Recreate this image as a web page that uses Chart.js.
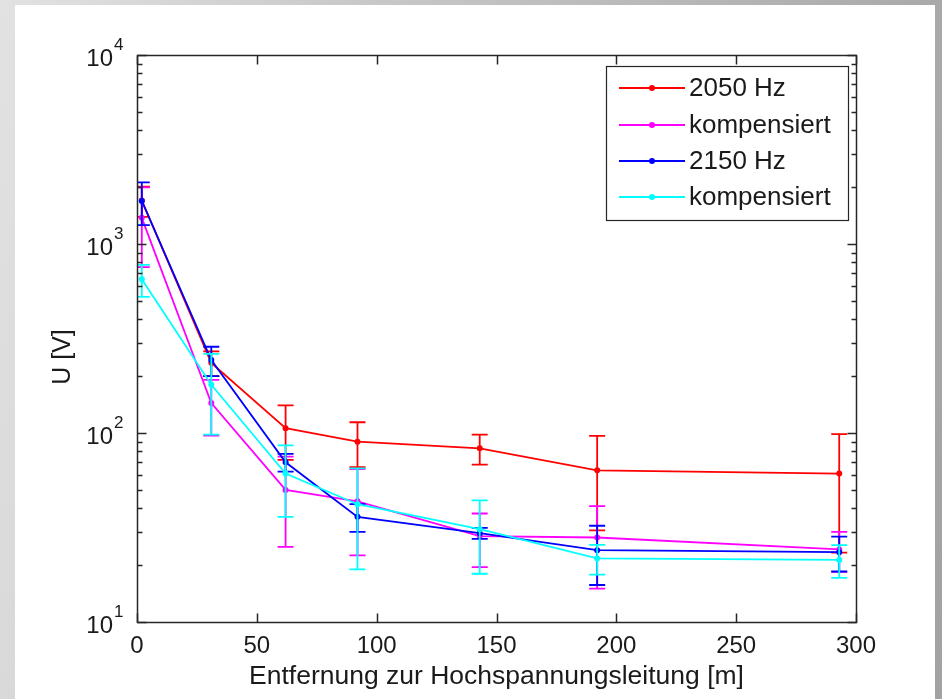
<!DOCTYPE html>
<html>
<head>
<meta charset="utf-8">
<script src="https://cdn.jsdelivr.net/npm/chart.js@4.4.1/dist/chart.umd.min.js"></script>
<style>
    html, body { margin: 0; padding: 0; }
    body {
        width: 942px; height: 699px; overflow: hidden; position: relative;
        background: linear-gradient(100deg, #e2e2e2 0%, #c8c8c8 35%, #a2a2a2 100%);
    }
    #card { position: absolute; left: 15px; top: 5px; width: 920px; height: 694px; background: #fff; }
    #chart { position: absolute; left: 0; top: 0; }
</style>
</head>
<body>
<div id="card"></div>
<canvas id="chart" width="942" height="699"></canvas>
<script>
// Distances (m) and measured voltages (V) with symmetric errors
const distances = [2, 31, 62, 92, 143, 192, 293];

const u2050 = [1700, 235, 106, 90, 83, 63.5, 61];
const err2050 = [310, 35, 34, 24, 15, 33, 37.7];

const u2050k = [1375, 144, 50, 43.5, 28.5, 28, 24.2];
const err2050k = [620, 47, 25, 21, 9, 13, 5.8];

const u2150 = [1690, 243, 70, 36, 29.5, 24, 23.4];
const err2150 = [430, 43, 7.5, 6, 2, 8.3, 4.9];

const u2150k = [650, 180, 61, 42, 31, 21.7, 21.3];
const err2150k = [125, 82, 25, 23, 13, 3.9, 4.2];

const seriesLabels = ['2050 Hz', 'kompensiert', '2150 Hz', 'kompensiert'];
const seriesColors = ['#ff0000', '#ff00ff', '#0000ff', '#00ffff'];

const xTicks = [0, 50, 100, 150, 200, 250, 300];
const yDecades = [1, 2, 3, 4];

const FONT = '"Liberation Sans", Arial, sans-serif';
const TEXT = '#1a1a1a';

function makeDataset(i, values, errors) {
    return {
        label: seriesLabels[i],
        data: distances.map((d, k) => ({ x: d, y: values[k] })),
        errors: errors,
        borderColor: seriesColors[i],
        backgroundColor: seriesColors[i],
        borderWidth: 1.8,
        pointRadius: 3,
        pointHoverRadius: 3,
        pointBorderWidth: 0,
        tension: 0,
        order: 3 - i
    };
}

// Error bars, MATLAB style box with inner ticks, y labels and legend
const matlabFrame = {
    id: 'matlabFrame',
    afterDatasetDraw(chart, args) {
        const ds = chart.data.datasets[args.index];
        const xs = chart.scales.x, ys = chart.scales.y;
        const area = chart.chartArea;
        const ctx = chart.ctx;
        ctx.save();
        ctx.beginPath();
        ctx.rect(area.left, area.top, area.right - area.left, area.bottom - area.top);
        ctx.clip();
        ctx.strokeStyle = ds.borderColor;
        ctx.lineWidth = 1.8;
        ds.data.forEach((pt, i) => {
            const e = ds.errors[i];
            const px = xs.getPixelForValue(pt.x);
            const top = ys.getPixelForValue(pt.y + e);
            const bot = ys.getPixelForValue(pt.y - e);
            ctx.beginPath();
            ctx.moveTo(px, top); ctx.lineTo(px, bot);
            ctx.moveTo(px - 8, top); ctx.lineTo(px + 8, top);
            ctx.moveTo(px - 8, bot); ctx.lineTo(px + 8, bot);
            ctx.stroke();
        });
        ctx.restore();
    },
    afterDraw(chart) {
        const ctx = chart.ctx;
        const xs = chart.scales.x, ys = chart.scales.y;
        const a = chart.chartArea;
        const L = Math.round(a.left) + 0.5, R = Math.round(a.right) + 0.5;
        const T = Math.round(a.top) + 0.5, B = Math.round(a.bottom) + 0.5;
        ctx.save();
        ctx.strokeStyle = '#262626';
        ctx.lineWidth = 1.5;
        ctx.strokeRect(L, T, R - L, B - T);

        // x ticks (bottom and top, pointing inward)
        ctx.beginPath();
        xTicks.forEach(v => {
            const px = Math.round(xs.getPixelForValue(v)) + 0.5;
            ctx.moveTo(px, B); ctx.lineTo(px, B - 9);
            ctx.moveTo(px, T); ctx.lineTo(px, T + 9);
        });
        // y ticks, major at decades, minor at 2..9 inside each decade
        yDecades.forEach(d => {
            for (let m = 1; m <= 9; m++) {
                const v = m * Math.pow(10, d);
                if (v > 10000) break;
                const py = Math.round(ys.getPixelForValue(v)) + 0.5;
                const len = m === 1 ? 9 : 5;
                ctx.moveTo(L, py); ctx.lineTo(L + len, py);
                ctx.moveTo(R, py); ctx.lineTo(R - len, py);
            }
        });
        ctx.stroke();

        // y tick labels 10^n
        ctx.fillStyle = TEXT;
        yDecades.forEach(d => {
            const py = ys.getPixelForValue(Math.pow(10, d));
            ctx.font = '24px ' + FONT;
            ctx.textAlign = 'right';
            ctx.textBaseline = 'middle';
            ctx.fillText('10', 113, py + 4);
            ctx.font = '17px ' + FONT;
            ctx.textAlign = 'left';
            ctx.fillText(String(d), 114, py - 10);
        });

        // y axis title
        ctx.save();
        ctx.translate(63, 357);
        ctx.rotate(-Math.PI / 2);
        ctx.font = '25px ' + FONT;
        ctx.textAlign = 'center';
        ctx.textBaseline = 'middle';
        ctx.fillText('U [V]', 0, 0);
        ctx.restore();

        // legend box
        ctx.fillStyle = '#fff';
        ctx.fillRect(606.5, 66.5, 242, 154);
        ctx.lineWidth = 1.2;
        ctx.strokeStyle = '#262626';
        ctx.strokeRect(606.5, 66.5, 242, 154);
        const rows = [88, 125, 161, 197];
        chart.data.datasets.forEach((ds, i) => {
            const y = rows[i];
            ctx.strokeStyle = ds.borderColor;
            ctx.lineWidth = 1.8;
            ctx.beginPath();
            ctx.moveTo(619, y); ctx.lineTo(685, y);
            ctx.stroke();
            ctx.fillStyle = ds.borderColor;
            ctx.beginPath();
            ctx.arc(652, y, 3, 0, Math.PI * 2);
            ctx.fill();
            ctx.fillStyle = TEXT;
            ctx.font = '26px ' + FONT;
            ctx.textAlign = 'left';
            ctx.textBaseline = 'middle';
            ctx.fillText(ds.label, 689, y + 1);
        });
        ctx.restore();
    }
};

new Chart(document.getElementById('chart').getContext('2d'), {
    type: 'line',
    data: {
        datasets: [
            makeDataset(0, u2050, err2050),
            makeDataset(1, u2050k, err2050k),
            makeDataset(2, u2150, err2150),
            makeDataset(3, u2150k, err2150k)
        ]
    },
    options: {
        responsive: false,
        animation: false,
        layout: { padding: { left: 0, right: 86, top: 55, bottom: 0 } },
        plugins: {
            legend: { display: false },
            tooltip: { enabled: false }
        },
        scales: {
            x: {
                type: 'linear',
                min: 0,
                max: 300,
                afterFit: s => { s.height = 77; },
                afterBuildTicks: s => { s.ticks = xTicks.map(v => ({ value: v })); },
                grid: { display: false },
                border: { display: false },
                ticks: {
                    color: TEXT,
                    font: { family: FONT, size: 24 },
                    padding: 2,
                    maxRotation: 0
                },
                title: {
                    display: true,
                    text: 'Entfernung zur Hochspannungsleitung [m]',
                    color: TEXT,
                    font: { family: FONT, size: 26.5 },
                    padding: { top: 0, bottom: 6 }
                }
            },
            y: {
                type: 'logarithmic',
                min: 10,
                max: 10000,
                afterFit: s => { s.width = 137; },
                grid: { display: false },
                border: { display: false },
                ticks: { display: false }
            }
        }
    },
    plugins: [matlabFrame]
});
</script>
</body>
</html>
